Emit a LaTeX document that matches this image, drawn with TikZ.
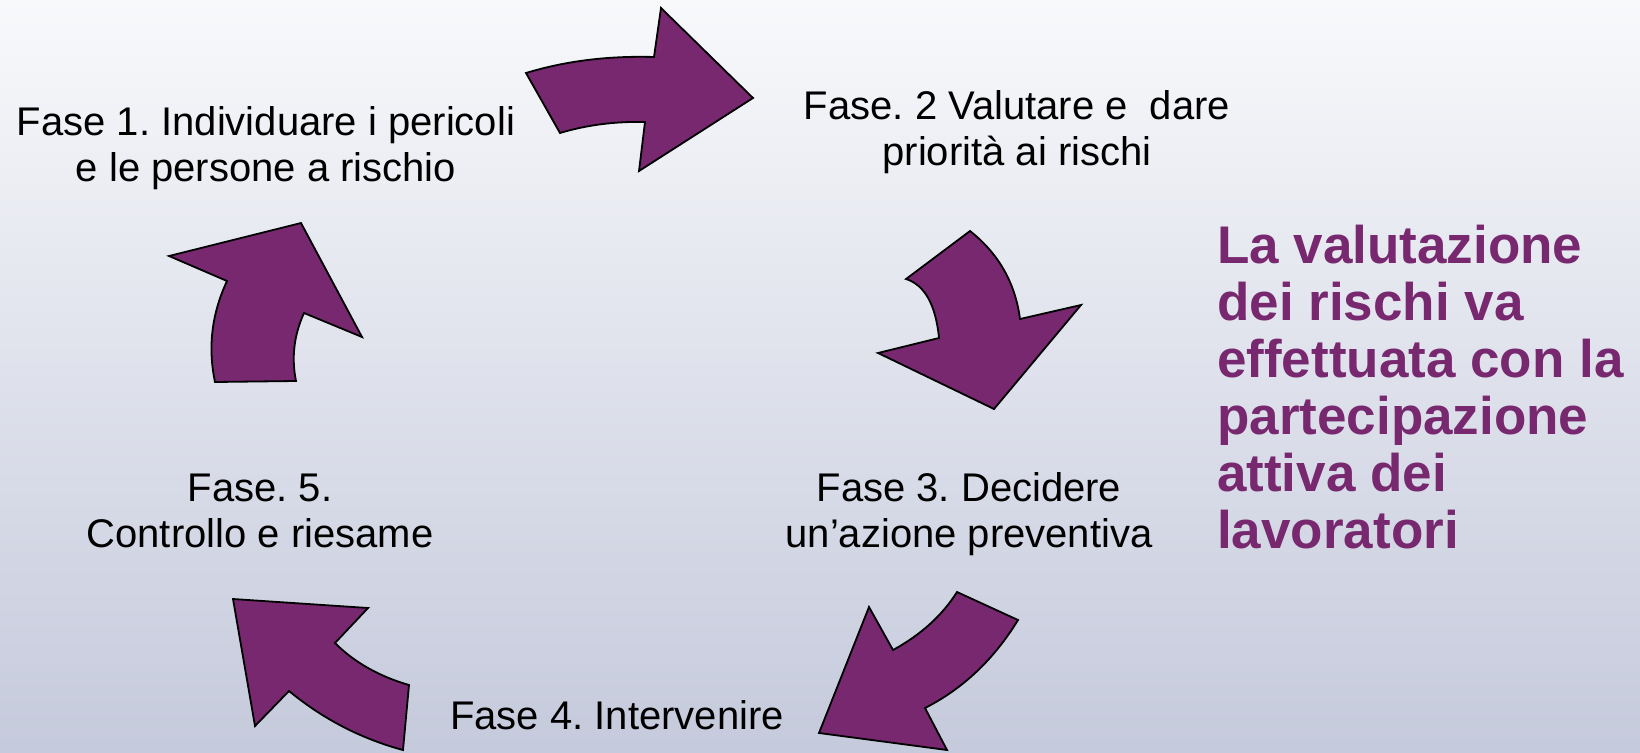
\documentclass[tikz,border=0pt]{standalone}
\usepackage{fontspec}
\setmainfont{Liberation Sans}
\frenchspacing
\definecolor{bgtop}{HTML}{F8F9FB}
\definecolor{bgbot}{HTML}{C5CADC}
\definecolor{plum}{HTML}{77286F}
\begin{document}
\begin{tikzpicture}[x=1pt,y=-1pt,
  blockarrow/.style={fill=plum,draw=black,line width=1.8pt,line join=miter},
  phase/.style={font=\fontsize{40}{46}\selectfont,align=center,anchor=base,inner sep=0pt,text=black},
  motto/.style={font=\fontsize{53}{57}\selectfont\bfseries,align=left,anchor=base west,inner sep=0pt,text=plum}]
\useasboundingbox (0,0) rectangle (1640,752);
\shade[top color=bgtop,bottom color=bgbot] (0,0) rectangle (1640,752);
% arrow 1 (top)
\draw[blockarrow] (526,73) .. controls (565.3,61) and (608,55.7) .. (654,57) -- (661,8) -- (753,98) -- (639,171) -- (645,122) .. controls (615,121.3) and (586.7,125) .. (560,133) -- cycle;
% arrow 2 (right top)
\draw[blockarrow] (906,279) -- (970,231) .. controls (998.7,253.7) and (1015.3,283) .. (1020,319) -- (1081,305) -- (994,409) -- (878,353) -- (939,338) .. controls (935.7,304.7) and (924.7,285) .. (906,279) -- cycle;
% arrow 3 (right bottom)
\draw[blockarrow] (957,592) -- (1018,620) .. controls (994,659.3) and (963,688.7) .. (925,708) -- (947,750) -- (819,733) -- (869,607) -- (893,650) .. controls (921,634.7) and (942.3,615.3) .. (957,592) -- cycle;
% arrow 4 (bottom left)
\draw[blockarrow] (403,750) -- (409,685) .. controls (379,676.3) and (354.3,662.3) .. (335,643) -- (368,608) -- (233,599) -- (255,726) -- (289,691) .. controls (323,719) and (361,738.7) .. (403,750) -- cycle;
% arrow 5 (left)
\draw[blockarrow] (215,382) -- (296,381) .. controls (291.3,357.7) and (294,335) .. (304,313) -- (362,337) -- (301,223) -- (169,256) -- (227,281) .. controls (211.7,313.7) and (207.7,347.3) .. (215,382) -- cycle;
% texts (anchor = baseline of last line)
\node[phase] (f1) at (266,181) {Fase 1. Individuare i pericoli\\e le persone a rischio};
\node[phase] (f2) at (1017,165) {Fase. 2 Valutare e \ dare\\priorità ai rischi};
\node[phase] (f3) at (969,547) {Fase 3. Decidere\\un’azione preventiva};
\node[phase] (f4) at (617,729) {Fase 4. Intervenire};
\node[phase] (f5) at (260,547) {Fase. 5.\\Controllo e riesame};
\node[motto] (m) at (1217,548) {La valutazione\\dei rischi va\\effettuata con la\\partecipazione\\attiva dei\\lavoratori};
\end{tikzpicture}
\end{document}
